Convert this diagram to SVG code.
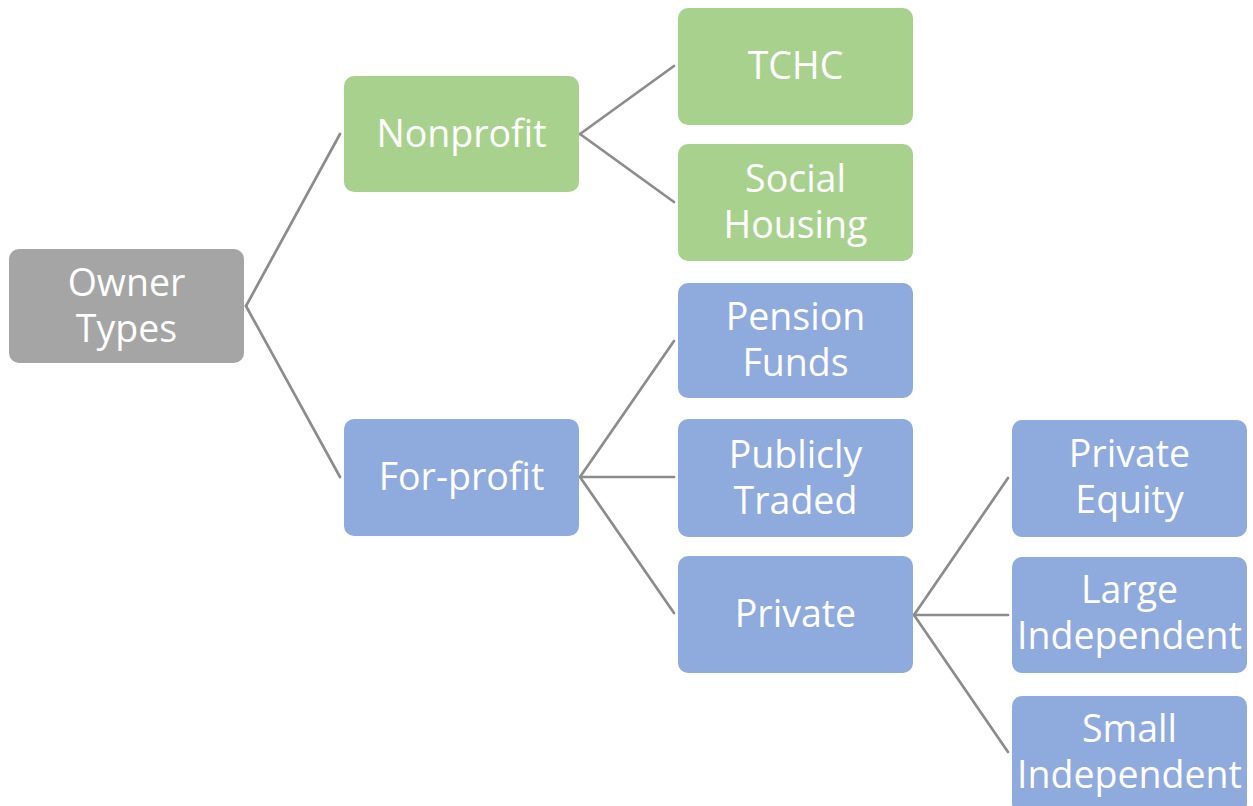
<svg xmlns="http://www.w3.org/2000/svg" width="1253" height="806" viewBox="0 0 1253 806">
<style>
.box{stroke:none}
.g{fill:#A5A5A5}
.gr{fill:#A9D18E}
.b{fill:#8FAADC}
text{font-family:"Open Sans","Noto Sans","DejaVu Sans",sans-serif;font-size:37.5px;fill:#FFFFFF;text-anchor:middle}
.c line{stroke:#8C8C8C;stroke-width:2.7;stroke-linecap:round}
</style>
<rect width="1253" height="806" fill="#FFFFFF"/>
<g class="c" id="connectors">
<line x1="246" y1="306" x2="340" y2="134"/>
<line x1="246" y1="306" x2="340" y2="477"/>
<line x1="580" y1="134" x2="674" y2="66"/>
<line x1="580" y1="134" x2="674" y2="202"/>
<line x1="580" y1="477" x2="674" y2="341"/>
<line x1="580" y1="477" x2="674" y2="477"/>
<line x1="580" y1="477" x2="674" y2="613"/>
<line x1="914" y1="615" x2="1008" y2="478"/>
<line x1="914" y1="615" x2="1008" y2="615"/>
<line x1="914" y1="615" x2="1008" y2="752"/>
</g>
<g id="owner-types"><rect class="box g" x="9" y="249" width="235" height="114" rx="10"/><text x="126.5" y="296">Owner</text><text x="126.5" y="342">Types</text></g>
<g id="nonprofit"><rect class="box gr" x="344" y="76" width="235" height="116" rx="10"/><text x="461.5" y="147">Nonprofit</text></g>
<g id="tchc"><rect class="box gr" x="678" y="8" width="235" height="117" rx="10"/><text x="795.5" y="79">TCHC</text></g>
<g id="social-housing"><rect class="box gr" x="678" y="144" width="235" height="117" rx="10"/><text x="795.5" y="192">Social</text><text x="795.5" y="238">Housing</text></g>
<g id="for-profit"><rect class="box b" x="344" y="419" width="235" height="117" rx="10"/><text x="461.5" y="490">For-profit</text></g>
<g id="pension-funds"><rect class="box b" x="678" y="283" width="235" height="115" rx="10"/><text x="795.5" y="330">Pension</text><text x="795.5" y="376">Funds</text></g>
<g id="publicly-traded"><rect class="box b" x="678" y="419" width="235" height="118" rx="10"/><text x="795.5" y="468">Publicly</text><text x="795.5" y="514">Traded</text></g>
<g id="private"><rect class="box b" x="678" y="556" width="235" height="117" rx="10"/><text x="795.5" y="627">Private</text></g>
<g id="private-equity"><rect class="box b" x="1012" y="420" width="235" height="117" rx="10"/><text x="1129.5" y="467">Private</text><text x="1129.5" y="513">Equity</text></g>
<g id="large-independent"><rect class="box b" x="1012" y="557" width="235" height="116" rx="10"/><text x="1129.5" y="603">Large</text><text x="1129.5" y="649">Independent</text></g>
<g id="small-independent"><rect class="box b" x="1012" y="696" width="235" height="117" rx="10"/><text x="1129.5" y="742">Small</text><text x="1129.5" y="788">Independent</text></g>
</svg>
